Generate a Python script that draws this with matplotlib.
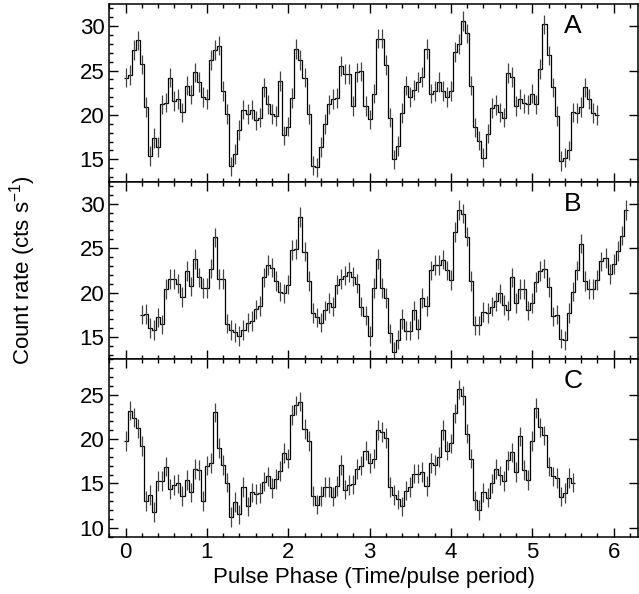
import matplotlib
matplotlib.use('Agg')
import matplotlib.pyplot as plt
from matplotlib.ticker import MultipleLocator
import numpy as np

plt.rcParams['font.family'] = ['Liberation Sans', 'DejaVu Sans']
plt.rcParams['mathtext.fontset'] = 'custom'
plt.rcParams['mathtext.rm'] = 'Liberation Sans'
plt.rcParams['mathtext.default'] = 'regular'

BIN = 0.05  # phase bin width

# panel A: bins start at phase 0.0
start_a = 0.0
rate_a = [24.2, 24.5, 27.3, 28.4, 25.7, 20.9, 15.4, 17.4, 16.4, 21.2, 21.4, 24.2,
          21.6, 21.8, 20.3, 23.3, 22.3, 24.8, 23.7, 22.0, 21.8, 26.2, 27.3,
          27.8, 22.7, 20.1, 14.2, 15.6, 18.3, 20.6, 20.1, 20.6, 19.4, 19.7, 23.1,
          21.2, 20.1, 19.9, 23.8, 17.7, 18.7, 21.9,
          27.4, 26.2, 24.2, 20.1, 14.3, 14.1, 16.4, 19.0, 21.2, 21.8, 21.9, 25.5,
          24.6, 24.6, 21.0, 24.8, 24.9, 21.0, 19.5,
          22.4, 28.6, 28.6, 25.6, 19.7, 15.0, 16.5, 20.2, 23.3, 22.0, 22.8, 23.7,
          24.3, 27.4, 22.4, 22.7, 23.7, 22.7, 22.0, 22.7, 27.1, 28.0, 30.6, 29.2,
          23.3, 18.6, 17.1, 15.2, 17.9, 20.8, 21.1, 20.3, 19.7, 24.7, 24.3, 21.0,
          21.8, 21.3, 21.2, 22.4, 21.2, 25.2, 30.2, 26.7, 23.1, 19.9, 14.8, 15.2,
          16.0, 20.3, 20.2, 20.9, 23.1, 21.8, 20.2, 20.0]
err_a = 1.1

# panel B: bins start at phase 0.2
start_b = 0.2
rate_b = [17.5, 17.6, 16.0, 15.8, 17.2, 16.4, 20.4, 21.5, 21.5, 21.0, 19.5, 22.4,
          20.7, 23.8, 21.7, 20.5, 20.5, 22.7, 26.2, 21.5, 21.5, 16.5, 15.8, 15.5,
          15.1, 15.8, 16.6, 16.8, 18.1, 18.5, 21.7, 23.1, 22.8, 21.3, 20.1, 19.9,
          20.9, 24.8, 24.9, 28.5, 24.6, 21.3, 17.7, 17.2, 16.6, 18.0, 18.8, 18.4,
          20.9, 21.5, 21.9, 22.3, 21.8, 21.0, 18.4, 17.4, 15.1,
          20.5, 23.8, 20.5, 19.4, 15.4, 13.3, 14.7, 17.0, 15.7, 15.7, 18.0, 15.9,
          19.4, 18.5, 22.5, 23.1, 23.1, 23.7, 22.5, 21.4, 26.8, 29.3, 28.9, 26.3,
          21.3, 16.3, 16.3, 17.8, 17.7, 18.4, 19.0, 19.9, 18.6, 18.0, 21.7, 18.8,
          20.4, 20.4, 18.0, 18.8, 21.2, 22.4, 22.7, 20.6, 17.3, 17.5, 14.8, 14.6,
          17.7, 20.1, 22.5, 25.5, 21.3, 20.4, 20.4, 21.4, 23.5, 23.9, 22.1, 23.2,
          24.7, 26.4, 29.3]
err_b = 1.1

# panel C: bins start at phase 0.0
start_c = 0.0
rate_c = [19.8, 23.2, 22.4, 21.2, 19.2, 13.0, 13.7, 11.8, 15.3, 15.3, 16.9, 14.4,
          14.8, 15.0, 13.6, 15.4, 14.0, 16.6, 16.5, 13.0, 17.0, 17.3, 23.0, 19.0,
          17.1, 15.1, 11.2, 12.9, 11.5, 14.6, 12.4, 14.0, 13.8, 13.9, 15.2, 15.8,
          14.5, 15.5, 16.4, 18.4, 17.8, 22.7, 23.8, 24.2, 21.1, 19.8, 13.6, 12.6,
          13.6, 14.6, 14.6, 13.5, 14.7, 17.1, 14.3, 14.8, 14.9, 16.6, 17.0, 18.7,
          17.3,
          17.8, 21.0, 20.8, 20.1, 14.6, 13.7, 13.2, 12.4, 14.2, 14.6, 16.1, 16.1,
          16.3, 14.7, 17.3, 17.1, 18.0, 21.0, 18.7, 19.5, 22.9, 25.6, 24.9, 20.6,
          17.8, 13.1, 12.0, 14.0, 13.4, 15.0, 16.6, 15.9, 15.3, 17.6, 18.5, 16.3,
          20.3, 16.5, 15.4, 19.8, 23.5, 21.3, 20.4, 16.9, 15.8, 15.6, 13.5, 13.9,
          15.6, 15.1]
err_c = 1.1

panels = [
    ('A', start_a, rate_a, err_a, (12.5, 32.5), [15, 20, 25, 30], 30.0),
    ('B', start_b, rate_b, err_b, (12.5, 32.5), [15, 20, 25, 30], 30.0),
    ('C', start_c, rate_c, err_c, (9, 29), [10, 15, 20, 25], 26.5),
]

fig = plt.figure(figsize=(6.39, 5.94), dpi=100)
left, width = 0.171, 0.8275
bottom, top = 0.0965, 0.9933
h = (top - bottom) / 3

for i, (name, start, rate, err, ylim, yt, label_y) in enumerate(panels):
    ax = fig.add_axes([left, top - (i + 1) * h, width, h])
    rate = np.array(rate)
    x = start + BIN * np.arange(len(rate))
    edges = np.append(x - BIN / 2, x[-1] + BIN / 2)
    ax.errorbar(x, rate, yerr=err, fmt='none', ecolor='#444444',
                elinewidth=0.9, capsize=0)
    ax.stairs(rate, edges, color='black', lw=0.9, baseline=None)

    ax.set_xlim(-0.2, 6.3)
    ax.set_ylim(*ylim)
    ax.set_yticks(yt)
    ax.yaxis.set_minor_locator(MultipleLocator(1))
    ax.set_xticks(range(0, 7))
    ax.xaxis.set_minor_locator(MultipleLocator(0.2))
    ax.tick_params(which='both', direction='in', top=True, right=True,
                   labelsize=16, width=1.0)
    ax.tick_params(which='major', length=6.5)
    ax.tick_params(which='minor', length=3.2)
    ax.tick_params(axis='y', which='minor', right=False)
    for s in ax.spines.values():
        s.set_linewidth(1.1)
    if i < 2:
        ax.tick_params(labelbottom=False)
    else:
        ax.set_xlabel('Pulse Phase (Time/pulse period)', fontsize=16, labelpad=3)
    ax.text(5.5, label_y, name, fontsize=19, ha='center', va='center')

fig.text(0.036, (top + bottom) / 2, 'Count rate (cts s$^{-1}$)', rotation=90,
         fontsize=16, ha='center', va='center')

fig.savefig('out.png', dpi=100)
